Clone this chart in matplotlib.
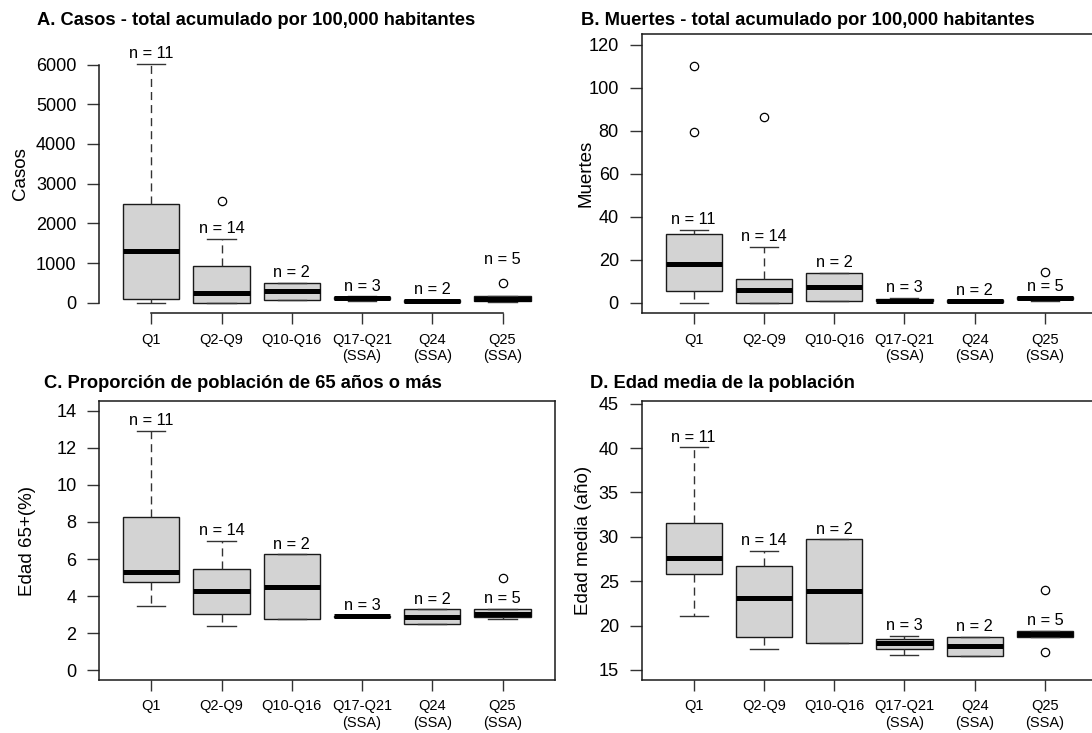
import matplotlib
matplotlib.use("Agg")
import matplotlib.pyplot as plt

plt.rcParams['font.family'] = ['Liberation Sans', 'DejaVu Sans']

# ---- data -------------------------------------------------------------
groups = ["Q1", "Q2-Q9", "Q10-Q16", "Q17-Q21\n(SSA)", "Q24\n(SSA)", "Q25\n(SSA)"]
counts = [11, 14, 2, 3, 2, 5]

# A. cases per 100,000
casos_whislo = [5, 0, 85, 55, 20, 15]
casos_q1 = [108, 10, 85, 92, 20, 40]
casos_med = [1320, 250, 292, 130, 47, 100]
casos_q3 = [2490, 937, 500, 150, 75, 165]
casos_whishi = [6025, 1616, 500, 170, 75, 165]
casos_fliers = [[], [2575], [], [], [], [490]]

# B. deaths per 100,000
muertes_whislo = [0.0, 0.0, 0.8, 0.4, 0.5, 0.8]
muertes_q1 = [5.4, 0.1, 0.8, 0.7, 0.5, 1.8]
muertes_med = [18.3, 5.9, 7.35, 1.0, 0.9, 2.3]
muertes_q3 = [31.9, 11.3, 13.9, 1.65, 1.3, 2.8]
muertes_whishi = [34.0, 26.0, 13.9, 2.3, 1.3, 2.8]
muertes_fliers = [[79.4, 110.2], [86.4], [], [], [], [14.2]]

# C. share of population aged 65+ (%)
edad65_whislo = [3.46, 2.38, 2.76, 2.87, 2.49, 2.74]
edad65_q1 = [4.76, 3.03, 2.76, 2.885, 2.49, 2.88]
edad65_med = [5.31, 4.29, 4.50, 2.90, 2.88, 3.01]
edad65_q3 = [8.29, 5.48, 6.25, 2.925, 3.28, 3.30]
edad65_whishi = [12.94, 6.99, 6.25, 2.95, 3.28, 3.30]
edad65_fliers = [[], [], [], [], [], [4.96]]

# D. median age of the population
edadmed_whislo = [21.05, 17.32, 18.06, 16.68, 16.57, 18.73]
edadmed_q1 = [25.76, 18.66, 18.06, 17.37, 16.57, 18.73]
edadmed_med = [27.59, 23.10, 23.90, 18.06, 17.65, 19.00]
edadmed_q3 = [31.59, 26.66, 29.72, 18.46, 18.73, 19.41]
edadmed_whishi = [40.07, 28.45, 29.72, 18.85, 18.73, 19.41]
edadmed_fliers = [[], [], [], [], [], [17.05, 23.97]]

# ---- figure -----------------------------------------------------------
W, H = 1092, 733
fig = plt.figure(figsize=(W / 100, H / 100), dpi=100)
fig.patch.set_facecolor("white")


def px_axes(left, right, top, bottom):
    return fig.add_axes([left / W, 1 - bottom / H, (right - left) / W, (bottom - top) / H])


def make_stats(wlo, q1, med, q3, whi, fl):
    return [dict(whislo=a, q1=b, med=c, q3=d, whishi=e, fliers=f)
            for a, b, c, d, e, f in zip(wlo, q1, med, q3, whi, fl)]


EDGE = "#1a1a1a"


def panel(ax, stats, ylim, yticks, ylabel, ylabel_x, title, title_x, title_y,
          framed=True, over_flier=()):
    pos = list(range(1, len(stats) + 1))
    ax.bxp(stats, positions=pos, widths=0.8, capwidths=0.4, patch_artist=True,
           boxprops=dict(facecolor="#d3d3d3", edgecolor=EDGE, linewidth=1.0),
           medianprops=dict(color="black", linewidth=3.6, solid_capstyle="butt"),
           whiskerprops=dict(color="#333333", linewidth=1.0, linestyle=(0, (5.8, 3.6))),
           capprops=dict(color="#333333", linewidth=1.0),
           flierprops=dict(marker="o", markerfacecolor="none", markeredgecolor="black",
                           markersize=6, markeredgewidth=0.9))
    ax.set_xlim(0.26, 6.74)
    ax.set_ylim(*ylim)
    ax.set_yticks(yticks)
    ax.set_xticks(pos)
    ax.set_xticklabels(groups)
    ax.tick_params(axis="y", labelsize=13.1, direction="out", length=9.0, width=1.0,
                   pad=7.5, color="#333333")
    ax.tick_params(axis="x", labelsize=10.5, direction="out", length=8.0, width=1.0,
                   pad=6.0, color="#333333")
    for sp in ax.spines.values():
        sp.set_linewidth(1.1)
        sp.set_color(EDGE)
    if not framed:
        ax.spines["top"].set_visible(False)
        ax.spines["right"].set_visible(False)
        ax.spines["left"].set_bounds(yticks[0], yticks[-1])
        ax.spines["bottom"].set_bounds(pos[0], pos[-1])
    # sample-size labels above each group
    for i, (s, n) in enumerate(zip(stats, counts)):
        if i in over_flier and s["fliers"]:
            top, off = max(s["fliers"]), 17
        else:
            top, off = s["whishi"], 7.3
        ax.annotate(f"n = {n}", xy=(pos[i], top), xytext=(0, off),
                    textcoords="offset points", ha="center", va="center",
                    fontsize=11.8, color="black", annotation_clip=False)
    ax.set_ylabel(ylabel, fontsize=13.5, va="baseline")
    bb = ax.get_position()
    ax.yaxis.set_label_coords(ylabel_x / W, bb.y0 + bb.height / 2, transform=fig.transFigure)
    fig.text(title_x / W, 1 - title_y / H, title, fontsize=13.2, fontweight="bold",
             ha="left", va="baseline")


axA = px_axes(99.3, 554.5, 34.3, 313.3)
axB = px_axes(641.7, 1096.9, 34.3, 313.3)
axC = px_axes(99.3, 554.5, 401, 680)
axD = px_axes(641.7, 1096.9, 401, 680)

panel(axA, make_stats(casos_whislo, casos_q1, casos_med, casos_q3, casos_whishi, casos_fliers),
      (-260, 6760), [0, 1000, 2000, 3000, 4000, 5000, 6000], "Casos", 25.5,
      "A. Casos - total acumulado por 100,000 habitantes", 37.3, 25,
      framed=False, over_flier=(5,))
panel(axB, make_stats(muertes_whislo, muertes_q1, muertes_med, muertes_q3, muertes_whishi, muertes_fliers),
      (-4.8, 124.8), [0, 20, 40, 60, 80, 100, 120], "Muertes", 591,
      "B. Muertes - total acumulado por 100,000 habitantes", 580.8, 25)
panel(axC, make_stats(edad65_whislo, edad65_q1, edad65_med, edad65_q3, edad65_whishi, edad65_fliers),
      (-0.54, 14.54), [0, 2, 4, 6, 8, 10, 12, 14], "Edad 65+(%)", 31.5,
      "C. Proporción de población de 65 años o más", 43.9, 388)
panel(axD, make_stats(edadmed_whislo, edadmed_q1, edadmed_med, edadmed_q3, edadmed_whishi, edadmed_fliers),
      (13.87, 45.3), [15, 20, 25, 30, 35, 40, 45], "Edad media (año)", 588,
      "D. Edad media de la población", 589.6, 388)

fig.savefig("out.png", dpi=100, facecolor="white")
